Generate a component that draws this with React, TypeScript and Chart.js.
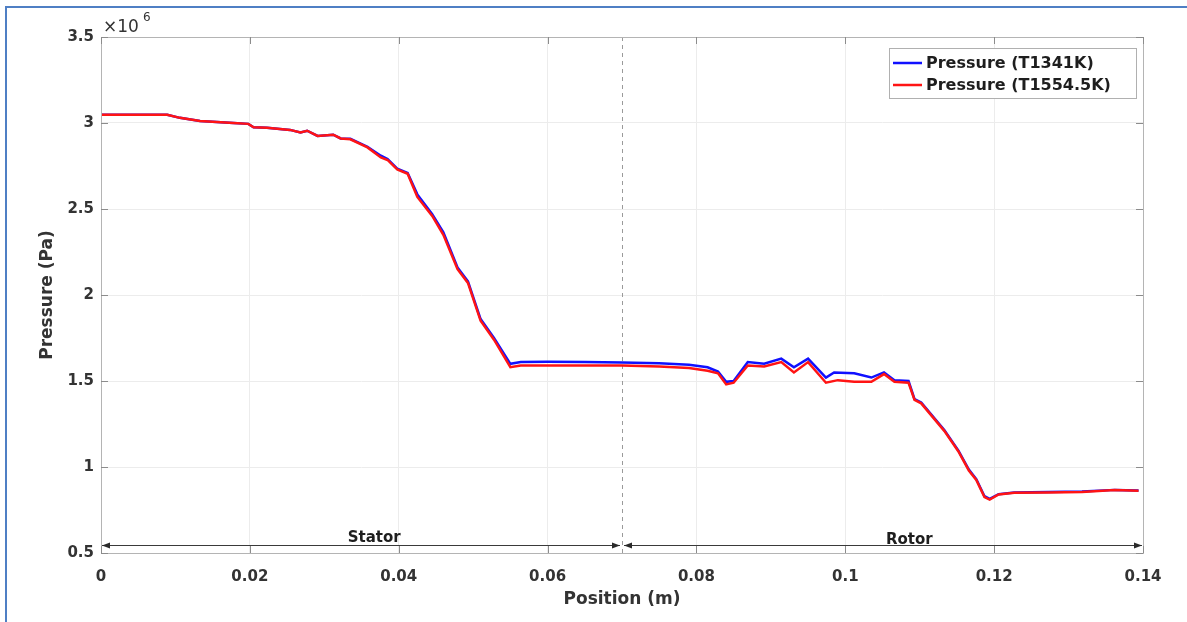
import React, { useEffect, useRef } from "react";
import { Chart, registerables } from "chart.js";

Chart.register(...registerables);

// Position along the passage (m)
const redX = [
  0.0, 0.0089, 0.0106, 0.0133, 0.0178, 0.0198, 0.0205, 0.0223, 0.0254, 0.0268, 0.0277, 0.0291,
  0.0312, 0.0322, 0.0335, 0.0358, 0.0376, 0.0385, 0.0398, 0.0412, 0.0425, 0.0445, 0.046, 0.0479,
  0.0493, 0.051, 0.0528, 0.055, 0.0564, 0.06, 0.065, 0.07, 0.075, 0.079, 0.0815, 0.0829, 0.084,
  0.085, 0.0869, 0.0891, 0.0914, 0.0931, 0.095, 0.0974, 0.099, 0.1012, 0.1035, 0.1052, 0.1066,
  0.1085, 0.1093, 0.1102, 0.1133, 0.1152, 0.1166, 0.1176, 0.1187, 0.1194, 0.1206, 0.1227, 0.1273,
  0.1318, 0.1362, 0.1394,
];
// Pressure, T = 1554.5 K (x10^6 Pa)
const redP = [
  3.048, 3.048, 3.03, 3.012, 3.0, 2.995, 2.975, 2.972, 2.96, 2.945, 2.955, 2.925, 2.932, 2.91,
  2.905, 2.858, 2.8, 2.785, 2.73, 2.705, 2.57, 2.46, 2.35, 2.15, 2.07, 1.85, 1.74, 1.58, 1.59,
  1.59, 1.59, 1.59, 1.585, 1.575, 1.56, 1.545, 1.48, 1.49, 1.59, 1.585, 1.61, 1.55, 1.61, 1.49,
  1.505, 1.495, 1.495, 1.54, 1.495, 1.49, 1.39, 1.37, 1.21, 1.09, 0.98, 0.925, 0.825, 0.81, 0.84,
  0.85, 0.852, 0.855, 0.866, 0.862,
];

const blueX = [
  0.0, 0.0089, 0.0106, 0.0133, 0.0178, 0.0198, 0.0205, 0.0223, 0.0254, 0.0268, 0.0277, 0.0291,
  0.0312, 0.0322, 0.0335, 0.0358, 0.0376, 0.0385, 0.0398, 0.0412, 0.0425, 0.0445, 0.046, 0.0479,
  0.0493, 0.051, 0.0528, 0.055, 0.0564, 0.06, 0.065, 0.07, 0.075, 0.079, 0.0815, 0.0829, 0.084,
  0.085, 0.0869, 0.0891, 0.0914, 0.0931, 0.095, 0.0974, 0.0985, 0.1012, 0.1035, 0.1052, 0.1066,
  0.1085, 0.1093, 0.1102, 0.1133, 0.1152, 0.1166, 0.1176, 0.1187, 0.1194, 0.1206, 0.1227, 0.1273,
  0.1318, 0.1362, 0.1394,
];
// Pressure, T = 1341 K (x10^6 Pa)
const blueP = [
  3.048, 3.048, 3.03, 3.012, 3.0, 2.995, 2.975, 2.972, 2.96, 2.945, 2.955, 2.925, 2.932, 2.91,
  2.908, 2.862, 2.81, 2.79, 2.735, 2.71, 2.585, 2.47, 2.365, 2.16, 2.08, 1.86, 1.75, 1.6, 1.61,
  1.612, 1.61, 1.608, 1.603, 1.595, 1.58, 1.555, 1.495, 1.5, 1.61, 1.6, 1.63, 1.58, 1.63, 1.52,
  1.55, 1.545, 1.52, 1.55, 1.505, 1.5, 1.395, 1.375, 1.215, 1.095, 0.985, 0.93, 0.83, 0.815,
  0.842, 0.852, 0.854, 0.857, 0.867, 0.863,
];

const seriesNames = ["Pressure (T1341K)", "Pressure (T1554.5K)"];
const seriesColors = ["#1010ff", "#ff1414"];
const xTicks = [0, 0.02, 0.04, 0.06, 0.08, 0.1, 0.12, 0.14];
const yTicks = [0.5, 1, 1.5, 2, 2.5, 3, 3.5];
const regionNames = ["Stator", "Rotor"];
const regionBounds = [0, 0.07, 0.14];
const arrowLevel = 0.547;

const FONT = "'DejaVu Sans', sans-serif";

const decorPlugin = {
  id: "decor",
  beforeDatasetsDraw(chart: any) {
    const { ctx, chartArea, scales } = chart;
    const xs = scales.x;
    ctx.save();
    ctx.strokeStyle = "#9a9a9a";
    ctx.lineWidth = 1;
    ctx.setLineDash([4, 4]);
    const px = Math.round(xs.getPixelForValue(regionBounds[1])) + 0.5;
    ctx.beginPath();
    ctx.moveTo(px, chartArea.top);
    ctx.lineTo(px, chartArea.bottom);
    ctx.stroke();
    ctx.restore();
  },
  afterDraw(chart: any) {
    const { ctx, chartArea, scales } = chart;
    const xs = scales.x;
    const ys = scales.y;
    const { left, right, top, bottom } = chartArea;
    ctx.save();
    // box
    ctx.strokeStyle = "#b4b4b4";
    ctx.lineWidth = 1;
    ctx.strokeRect(Math.round(left) + 0.5, Math.round(top) + 0.5, Math.round(right - left), Math.round(bottom - top));
    // inner ticks
    ctx.strokeStyle = "#8c8c8c";
    ctx.beginPath();
    const tl = 7;
    xTicks.forEach((v) => {
      const p = Math.round(xs.getPixelForValue(v)) + 0.5;
      ctx.moveTo(p, bottom);
      ctx.lineTo(p, bottom - tl);
      ctx.moveTo(p, top);
      ctx.lineTo(p, top + tl);
    });
    yTicks.forEach((v) => {
      const p = Math.round(ys.getPixelForValue(v)) + 0.5;
      ctx.moveTo(left, p);
      ctx.lineTo(left + tl, p);
      ctx.moveTo(right, p);
      ctx.lineTo(right - tl, p);
    });
    ctx.stroke();

    // region arrows
    const ay = Math.round(ys.getPixelForValue(arrowLevel)) + 0.5;
    ctx.strokeStyle = "#3a3a3a";
    ctx.fillStyle = "#2a2a2a";
    ctx.lineWidth = 1;
    const head = (x: number, dir: number) => {
      ctx.beginPath();
      ctx.moveTo(x, ay);
      ctx.lineTo(x - dir * 8, ay - 3);
      ctx.lineTo(x - dir * 8, ay + 3);
      ctx.closePath();
      ctx.fill();
    };
    for (let i = 0; i < regionNames.length; i++) {
      const x0 = xs.getPixelForValue(regionBounds[i]) + (i === 0 ? 1 : 2);
      const x1 = xs.getPixelForValue(regionBounds[i + 1]) - (i === 0 ? 2 : 1);
      ctx.beginPath();
      ctx.moveTo(x0, ay);
      ctx.lineTo(x1, ay);
      ctx.stroke();
      head(x0, -1);
      head(x1, 1);
    }
    ctx.fillStyle = "#1e1e1e";
    ctx.font = `bold 15px ${FONT}`;
    ctx.textAlign = "center";
    ctx.textBaseline = "alphabetic";
    ctx.fillText(regionNames[0], xs.getPixelForValue(0.0367), ay - 4);
    ctx.fillText(regionNames[1], xs.getPixelForValue(0.1086), ay - 2);

    // exponent
    ctx.textAlign = "left";
    ctx.fillStyle = "#333";
    ctx.font = `17px ${FONT}`;
    ctx.fillText("\u00d710", left + 2, top - 5);
    ctx.font = `12px ${FONT}`;
    ctx.fillText("6", left + 42, top - 16);

    // legend
    const lx = 889, ly = 48, lw = 247, lh = 50;
    ctx.fillStyle = "#ffffff";
    ctx.fillRect(lx, ly, lw, lh);
    ctx.strokeStyle = "#b0b0b0";
    ctx.strokeRect(lx + 0.5, ly + 0.5, lw, lh);
    ctx.font = `bold 16px ${FONT}`;
    ctx.textBaseline = "middle";
    for (let i = 0; i < seriesNames.length; i++) {
      const yy = ly + 15 + i * 22;
      ctx.strokeStyle = seriesColors[i];
      ctx.lineWidth = 2.5;
      ctx.beginPath();
      ctx.moveTo(lx + 4, yy);
      ctx.lineTo(lx + 33, yy);
      ctx.stroke();
      ctx.fillStyle = "#1e1e1e";
      ctx.fillText(seriesNames[i], lx + 37, yy + 1);
    }
    ctx.restore();
  },
};

export default function App() {
  const ref = useRef<HTMLCanvasElement | null>(null);
  useEffect(() => {
    if (!ref.current) return;
    const chart = new Chart(ref.current, {
      type: "line",
      data: {
        datasets: [
          {
            label: seriesNames[0],
            data: blueX.map((x, i) => ({ x, y: blueP[i] })),
            borderColor: seriesColors[0],
            borderWidth: 2.5,
            pointRadius: 0,
            tension: 0,
            order: 1,
          },
          {
            label: seriesNames[1],
            data: redX.map((x, i) => ({ x, y: redP[i] })),
            borderColor: seriesColors[1],
            borderWidth: 2.5,
            pointRadius: 0,
            tension: 0,
            order: 0,
          },
        ],
      },
      options: {
        animation: false,
        responsive: false,
        maintainAspectRatio: false,
        layout: { padding: { left: 0, top: 37, right: 44, bottom: 0 } },
        plugins: { legend: { display: false }, tooltip: { enabled: false } },
        scales: {
          x: {
            type: "linear",
            min: 0,
            max: 0.14,
            afterFit: (s: any) => {
              s.height = 69;
            },
            afterBuildTicks: (s: any) => {
              s.ticks = xTicks.map((v) => ({ value: v }));
            },
            ticks: {
              padding: 15,
              color: "#333",
              font: { family: FONT, size: 15, weight: "bold" },
              callback: (v: any) => String(Number(Number(v).toFixed(2))),
            },
            grid: { color: "#ececec", drawTicks: false },
            border: { display: false },
            title: {
              display: true,
              text: "Position (m)",
              color: "#333",
              font: { family: FONT, size: 17, weight: "bold" },
              padding: { top: 0, bottom: 12 },
            },
          },
          y: {
            type: "linear",
            min: 0.5,
            max: 3.5,
            afterFit: (s: any) => {
              s.width = 101;
            },
            afterBuildTicks: (s: any) => {
              s.ticks = yTicks.map((v) => ({ value: v }));
            },
            ticks: {
              padding: 7,
              color: "#333",
              font: { family: FONT, size: 15, weight: "bold" },
              callback: (v: any) => String(Number(Number(v).toFixed(2))),
            },
            grid: { color: "#ececec", drawTicks: false },
            border: { display: false },
            title: {
              display: true,
              text: "Pressure (Pa)",
              color: "#333",
              font: { family: FONT, size: 17, weight: "bold" },
              padding: { top: 37, bottom: 0 },
            },
          },
        },
      },
      plugins: [decorPlugin],
    });
    return () => chart.destroy();
  }, []);

  return (
    <div style={{ position: "fixed", left: 0, top: 0, width: 1187, height: 622, background: "#fff", overflow: "hidden" }}>
      <div
        style={{
          position: "absolute",
          left: 5,
          top: 6,
          width: 1200,
          height: 700,
          borderLeft: "2px solid #4f7fc4",
          borderTop: "2px solid #4f7fc4",
        }}
      />
      <canvas ref={ref} width={1187} height={622} style={{ position: "absolute", left: 0, top: 0 }} />
    </div>
  );
}
